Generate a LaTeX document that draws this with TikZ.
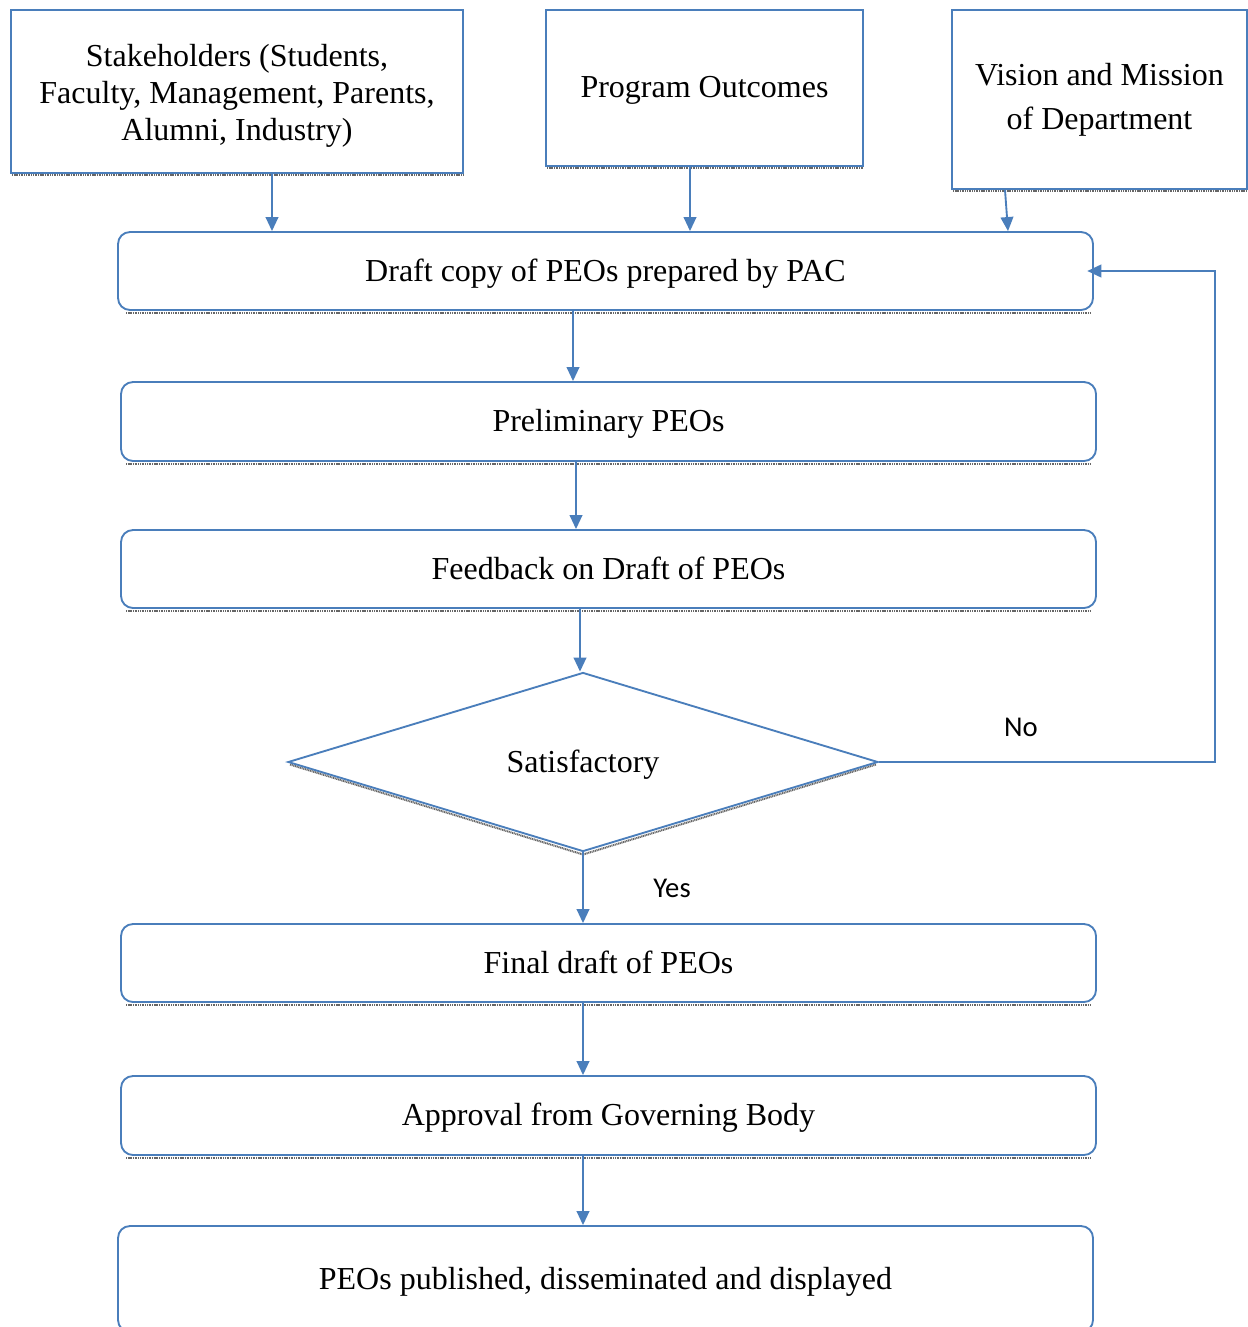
\documentclass[tikz,border=0pt]{standalone}
\usepackage{fontspec}
\setmainfont{Liberation Serif}
\newfontfamily\labelfont{Carlito}
\usetikzlibrary{arrows.meta,shapes.geometric,calc}

\definecolor{flowblue}{HTML}{4A7EBB}

\begin{document}
\begin{tikzpicture}[x=0.75pt,y=-0.75pt,
  every node/.style={font=\fontsize{24}{28}\selectfont, text=black},
  inbox/.style={draw=flowblue, line width=1.4pt, fill=white, align=center, inner sep=0pt},
  oneline/.style={text height=17pt, text depth=2pt},
  stagebox/.style={inbox, oneline, rounded corners=9pt, minimum width=731.25pt},
  decide/.style={diamond, oneline, draw=flowblue, line width=1.4pt, fill=white, inner sep=0pt,
     minimum width=442.5pt, minimum height=134.25pt},
  flow/.style={draw=flowblue, line width=1.4pt, -{Triangle[length=10.5pt,width=9.5pt]}},
  shadowline/.style={draw=black!60, line width=1.5pt, dash pattern=on 0.8pt off 0.5pt},
  answer/.style={font=\labelfont\fontsize{21.5}{24}\selectfont}]

\useasboundingbox (0,0) rectangle (1248,1327);
\clip (0,0) rectangle (1248,1327);

% shadows under the boxes
\draw[shadowline] (12,175.5) -- (463,175.5);
\draw[shadowline] (547,168.5) -- (863,168.5);
\draw[shadowline] (953,190.5) -- (1247,190.5);
\foreach \y in {312.5,463.5,610.5,1004.5,1157.5}
  \draw[shadowline] (126,\y) -- (1090,\y);
\draw[shadowline] (290,764.5) -- (583,854.5) -- (876,764.5);

% input boxes
\node[inbox, minimum width=339pt, minimum height=122.25pt,
      label={[align=center, yshift=-3pt, font=\fontsize{24}{27.75}\selectfont]center:%
        Stakeholders (Students,\\Faculty, Management, Parents,\\Alumni, Industry)}]
  (stake) at (237,91.5) {};
\node[inbox, oneline, minimum width=237.75pt, minimum height=117pt] (po) at (704.5,88)
  {Program Outcomes};
\node[inbox, minimum width=221.25pt, minimum height=134.25pt,
      font=\fontsize{24}{33}\selectfont] (vm) at (1099.5,99.5)
  {Vision and Mission\\of Department};

% process stages
\node[stagebox, minimum height=58.5pt] (draft) at (605.5,271)
  {Draft copy of PEOs prepared by PAC};
\node[stagebox, minimum height=59.25pt] (prelim) at (608.5,421.5)
  {Preliminary PEOs};
\node[stagebox, minimum height=58.5pt] (feed) at (608.5,569)
  {Feedback on Draft of PEOs};
\node[decide] (sat) at (583,762) {Satisfactory};
\node[stagebox, minimum height=58.5pt] (final) at (608.5,963)
  {Final draft of PEOs};
\node[stagebox, minimum height=59.25pt] (gov) at (608.5,1115.5)
  {Approval from Governing Body};
\node[stagebox, minimum height=79.5pt] (pub) at (605.5,1279)
  {PEOs published, disseminated and displayed};

% connectors
\draw[flow] (stake.south -| 272,0) -- (draft.north -| 272,0);
\draw[flow] (po.south -| 690,0) -- (draft.north -| 690,0);
\draw[flow] (vm.south -| 1005,0) -- (draft.north -| 1008,0);
\draw[flow] (draft.south -| 573,0) -- (prelim.north -| 573,0);
\draw[flow] (prelim.south -| 576,0) -- (feed.north -| 576,0);
\draw[flow] (feed.south -| 580,0) -- (sat.north -| 580,0);
\coordinate (loop) at (1215,762);
\draw[flow, shorten >=-5pt] (sat.east) -- (loop) -- (loop |- draft.east) -- (draft.east);
\draw[flow] (sat.south) -- (final.north -| sat.south);
\draw[flow] (final.south -| 583,0) -- (gov.north -| 583,0);
\draw[flow] (gov.south -| 583,0) -- (pub.north -| 583,0);

% decision labels
\node[answer] (no) at (1021,727) {No};
\node[answer] (yes) at (672,888) {Yes};
\end{tikzpicture}
\end{document}
